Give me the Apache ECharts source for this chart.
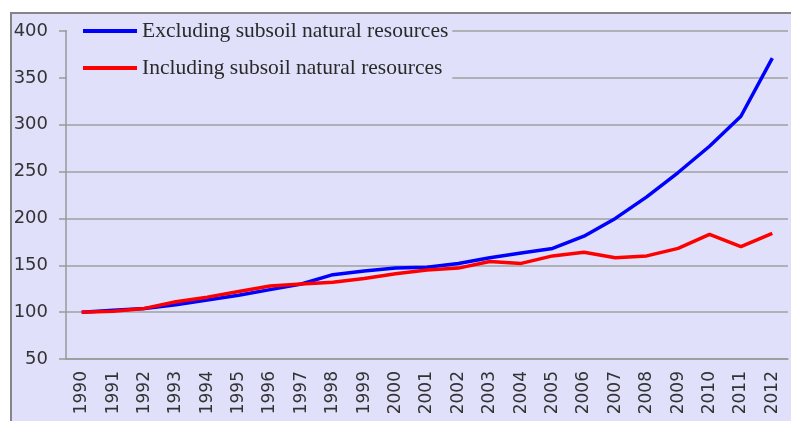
<!DOCTYPE html>
<html>
<head>
<meta charset="utf-8">
<script src="https://cdn.jsdelivr.net/npm/echarts@6/dist/echarts.min.js"></script>
<style>
html,body{margin:0;padding:0;background:#fff;}
#main{width:791px;height:421px;}
</style>
</head>
<body>
<div id="main"></div>
<script>
//年份
var years = ['1990','1991','1992','1993','1994','1995','1996','1997','1998','1999','2000','2001',
	'2002','2003','2004','2005','2006','2007','2008','2009','2010','2011','2012'];
//不含地下资源
var excluding = [100,102,104,108,113,118,124,130,140,144,147,148,152,158,163,168,181,200,223,249,277,309,371];
//含地下资源
var including = [100,101,104,111,116,122,128,130,132,136,141,145,147,154,152,160,164,158,160,168,183,170,184];

var names = ['Excluding subsoil natural resources','Including subsoil natural resources'];

var myChart = echarts.init(document.getElementById('main'));
var option = {
	backgroundColor:'#fff',
	animation:false,
	graphic:[{
		type:'rect',
		z:-10,
		shape:{x:11,y:13,width:800,height:420},
		style:{fill:'#e0e0fb',stroke:'#858585',lineWidth:2}
	}],
	//图例带底色,盖住背后的网格线
	legend:{
		orient:'vertical',
		left:67,
		top:15,
		padding:[5,4,5,16],
		backgroundColor:'#e0e0fb',
		itemGap:15,
		itemWidth:54,
		itemHeight:4,
		icon:'rect',
		textStyle:{fontFamily:'Liberation Serif',fontSize:21.5,color:'#2a2a2a',lineHeight:22},
		data:names
	},
	grid:{left:66,right:3,top:31,bottom:62},
	xAxis:{
		type:'category',
		data:years,
		axisLine:{lineStyle:{color:'#999',width:1.5}},
		axisTick:{length:7,lineStyle:{color:'#999',width:1.5}},
		axisLabel:{rotate:90,margin:12,fontFamily:'DejaVu Sans',fontSize:17,color:'#333'}
	},
	yAxis:{
		type:'value',
		min:50,
		max:400,
		interval:50,
		axisLine:{show:true,lineStyle:{color:'#999',width:1.5}},
		axisTick:{show:true,length:7,lineStyle:{color:'#999',width:1.5}},
		axisLabel:{margin:18,fontFamily:'DejaVu Sans',fontSize:18,color:'#333'},
		splitLine:{lineStyle:{color:'#a0a0a0',width:1.5}}
	},
	series:[{
		name:names[0],
		type:'line',
		data:excluding,
		showSymbol:false,
		color:'#0000ff',
		lineStyle:{width:3.5,color:'#0000ff'}
	},{
		name:names[1],
		type:'line',
		data:including,
		showSymbol:false,
		color:'#ff0000',
		lineStyle:{width:3.5,color:'#ff0000'}
	}]
};
myChart.setOption(option);
</script>
</body>
</html>
